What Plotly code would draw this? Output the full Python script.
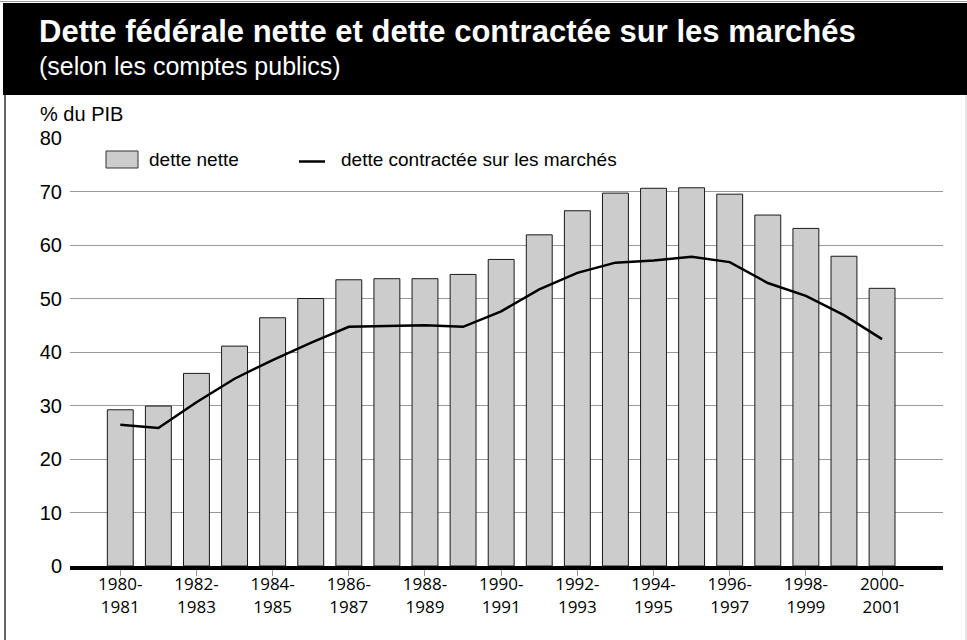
import plotly.graph_objects as go

# ---- data ----
periods = [f"{y}-{y+1}" for y in range(1980, 2001)]
dette_nette = [29.2, 29.9, 36.0, 41.1, 46.4, 50.0, 53.5, 53.7, 53.7, 54.5,
               57.3, 61.9, 66.4, 69.7, 70.6, 70.7, 69.5, 65.6, 63.1, 57.9, 51.9]
dette_marches = [26.4, 25.8, 30.6, 35.0, 38.5, 41.7, 44.7, 44.8, 45.0, 44.7,
                 47.6, 51.7, 54.8, 56.7, 57.1, 57.8, 56.8, 52.9, 50.5, 46.9, 42.4]
tick_vals = periods[::2]
tick_text = [p.replace("-", "-<br>") for p in tick_vals]
y_ticks = [0, 10, 20, 30, 40, 50, 60, 70, 80]

title = "Dette fédérale nette et dette contractée sur les marchés"
subtitle = "(selon les comptes publics)"
y_title = "% du PIB"
legend_bar = "dette nette"
legend_line = "dette contractée sur les marchés"

# ---- geometry (pixels) ----
W, H = 967, 640
L, R, T, B = 70, 24, 138, 74
PW, PH = W - L - R, H - T - B

def px(x):
    return (x - L) / PW

def py(y):
    return (H - B - y) / PH

FONT = "Liberation Sans, Arial, sans-serif"
TICKFONT = "Open Sans, Liberation Sans, sans-serif"

fig = go.Figure()
fig.add_trace(go.Bar(
    x=periods, y=dette_nette, name=legend_bar, width=0.68,
    marker=dict(color="#cccccc", line=dict(color="#1a1a1a", width=1)),
    showlegend=False,
))
fig.add_trace(go.Scatter(
    x=periods, y=dette_marches, name=legend_line, mode="lines",
    line=dict(color="#000000", width=2.5), showlegend=False,
))

shapes = [
    # black title band
    dict(type="rect", xref="paper", yref="paper", x0=px(3), x1=px(968), y0=py(95), y1=py(3),
         fillcolor="#000000", line=dict(width=0), layer="below"),
    # top thin line
    dict(type="line", xref="paper", yref="paper", x0=px(0), x1=px(967), y0=py(1.5), y1=py(1.5),
         line=dict(color="#999999", width=1)),
    # left border
    dict(type="line", xref="paper", yref="paper", x0=px(5), x1=px(5), y0=py(95), y1=py(641),
         line=dict(color="#333333", width=1.5)),
    # right border
    dict(type="line", xref="paper", yref="paper", x0=px(966), x1=px(966), y0=py(95), y1=py(641),
         line=dict(color="#cccccc", width=1)),
    # legend swatch (bar)
    dict(type="rect", xref="paper", yref="paper", x0=px(106), x1=px(138), y0=py(168), y1=py(151),
         fillcolor="#cccccc", line=dict(color="#333333", width=1)),
    # legend swatch (line)
    dict(type="line", xref="paper", yref="paper", x0=px(299), x1=px(325), y0=py(161.5), y1=py(161.5),
         line=dict(color="#000000", width=2.5)),
]

annotations = [
    dict(text=f"<b>{title}</b>", xref="paper", yref="paper", x=px(37), y=py(31),
         xanchor="left", yanchor="middle", showarrow=False,
         font=dict(family=FONT, size=31, color="#ffffff")),
    dict(text=subtitle, xref="paper", yref="paper", x=px(37), y=py(66),
         xanchor="left", yanchor="middle", showarrow=False,
         font=dict(family=FONT, size=25, color="#ffffff")),
    dict(text=y_title, xref="paper", yref="paper", x=px(38), y=py(114),
         xanchor="left", yanchor="middle", showarrow=False,
         font=dict(family=FONT, size=20, color="#000000")),
    dict(text=legend_bar, xref="paper", yref="paper", x=px(147), y=py(160),
         xanchor="left", yanchor="middle", showarrow=False,
         font=dict(family=FONT, size=19, color="#000000")),
    dict(text=legend_line, xref="paper", yref="paper", x=px(339), y=py(160),
         xanchor="left", yanchor="middle", showarrow=False,
         font=dict(family=FONT, size=19, color="#000000")),
]

fig.update_layout(
    width=W, height=H,
    margin=dict(l=L, r=R, t=T, b=B),
    paper_bgcolor="#ffffff", plot_bgcolor="#ffffff",
    shapes=shapes, annotations=annotations,
    showlegend=False,
    bargap=0.32,
)
fig.update_xaxes(
    type="category", range=[-1.32, 21.6],
    tickmode="array", tickvals=tick_vals, ticktext=tick_text,
    ticks="outside", ticklen=6, tickcolor="#999999", tickwidth=1,
    showline=True, linecolor="#000000", linewidth=4,
    showgrid=False, zeroline=False,
    tickfont=dict(family=TICKFONT, size=17, color="#000000"),
    ticklabelstandoff=-6,
)
fig.update_yaxes(
    range=[0, 80], tickmode="array", tickvals=y_ticks,
    showgrid=True, gridcolor="#999999", gridwidth=1,
    zeroline=False, showline=False, ticks="",
    tickfont=dict(family=FONT, size=20, color="#000000"),
    ticklabelstandoff=7,
)

fig.write_html(
    "out.html",
    config={"displayModeBar": False},
    post_script="document.body.style.margin='0';document.body.style.padding='0';",
)
